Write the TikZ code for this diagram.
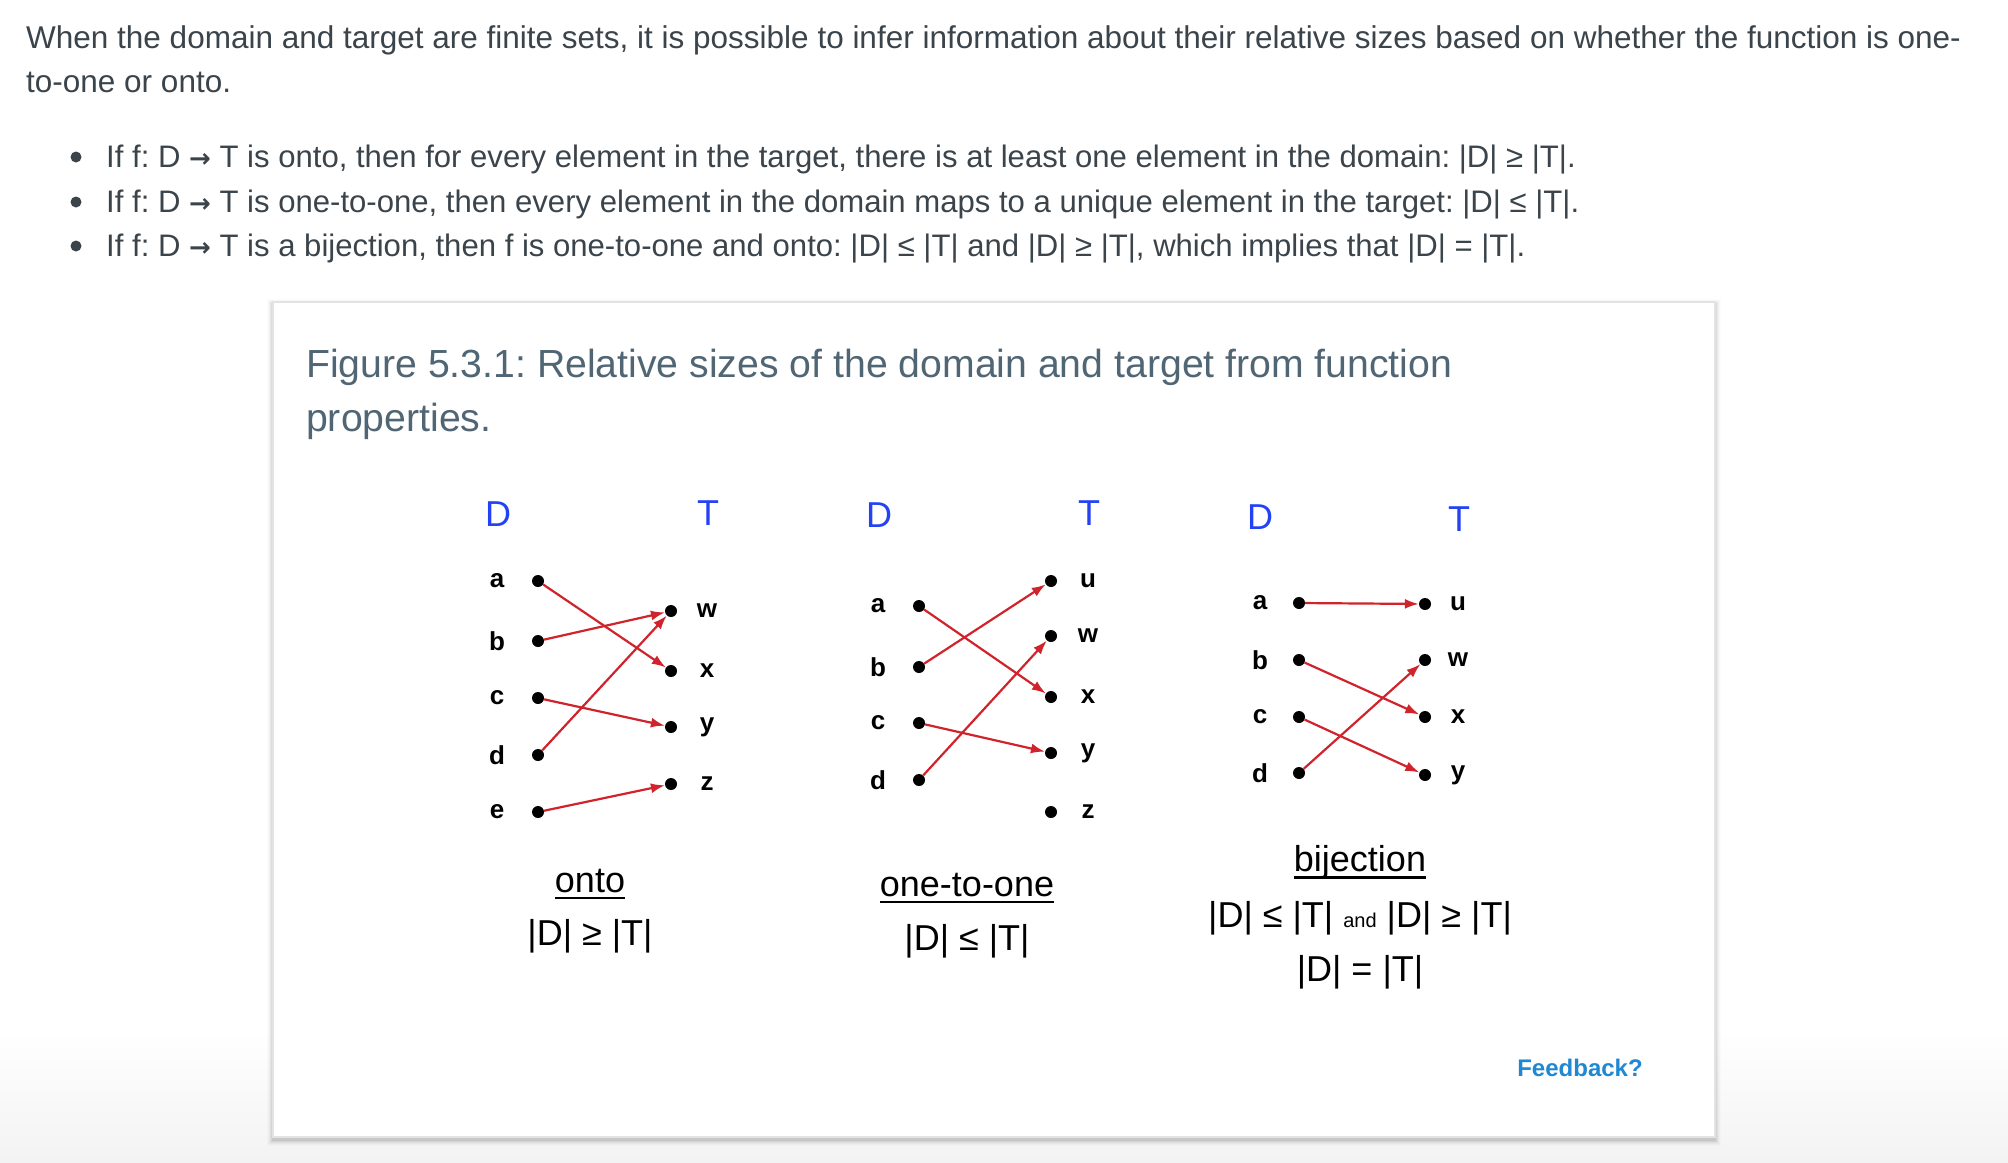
\documentclass[tikz,border=0pt]{standalone}
\usepackage{fontspec}
\setmainfont{Liberation Sans}
\newfontfamily\arrowfont{DejaVu Sans}
\usetikzlibrary{arrows.meta}
\frenchspacing
\definecolor{bodytext}{HTML}{3B444B}
\definecolor{captext}{HTML}{516674}
\definecolor{setblue}{HTML}{2341F5}
\definecolor{arrowred}{HTML}{D0232B}
\definecolor{fbblue}{HTML}{1E88D4}
\definecolor{cardline}{HTML}{E3E3E3}
\definecolor{pagegray}{HTML}{F3F3F3}
\newcommand{\fto}{{\arrowfont\bfseries\fontsize{26}{30}\selectfont →}}
\begin{document}
\begin{tikzpicture}[x=1pt,y=-1pt,
  bodyline/.style={anchor=base west, inner sep=0pt, text=bodytext, font=\fontsize{31.5}{37}\selectfont},
  bulletline/.style={anchor=base west, inner sep=0pt, text=bodytext, font=\fontsize{31.1}{37}\selectfont},
  bulletdot/.style={circle, fill=bodytext, inner sep=0pt, minimum size=11pt},
  capline/.style={anchor=base west, inner sep=0pt, text=captext, font=\fontsize{39.2}{48}\selectfont},
  setname/.style={inner sep=0pt, text=setblue, font=\fontsize{36}{40}\selectfont},
  elabel/.style={inner sep=0pt, text=black, font=\fontsize{26}{30}\selectfont\bfseries},
  dotnode/.style={circle, fill=black, inner sep=0pt, minimum size=12pt},
  arr/.style={draw=arrowred, line width=2.2pt, -{Latex[length=14pt,width=10pt]}},
  kindlabel/.style={anchor=base, inner sep=0pt, text=black, font=\fontsize{36}{40}\selectfont},
  ulstyle/.style={draw=black, line width=2.6pt},
  fblabel/.style={inner sep=0pt, text=fbblue, font=\fontsize{24}{28}\selectfont\bfseries}
]
\useasboundingbox (0,0) rectangle (2008,1162);
\fill[white] (0,0) rectangle (2008,1162);
\shade[top color=white, bottom color=pagegray] (0,1030) rectangle (2008,1162);

% card with soft shadow
\foreach \i/\o in {1/0.06,2/0.045,3/0.035,4/0.025,5/0.018,6/0.012} {
  \fill[black, opacity=\o] ({273-\i},{302-\i+3}) rectangle ({1715+\i},{1137+\i+3});
}
\fill[white, draw=cardline, line width=1.2pt] (273,302) rectangle (1715,1137);

% introductory text
\node[bodyline] (l1) at (26,48) {When the domain and target are finite sets, it is possible to infer information about their relative sizes based on whether the function is one-};
\node[bodyline] (l2) at (26,92.5) {to-one or onto.};

\node[bulletdot] (bd1) at (76,157) {};
\node[bulletdot] (bd2) at (76,202) {};
\node[bulletdot] (bd3) at (76,246) {};
\node[bulletline] (b1) at (106,167) {If f: D \fto{} T is onto, then for every element in the target, there is at least one element in the domain: |D| ≥ |T|.};
\node[bulletline] (b2) at (106,212) {If f: D \fto{} T is one-to-one, then every element in the domain maps to a unique element in the target: |D| ≤ |T|.};
\node[bulletline] (b3) at (106,256) {If f: D \fto{} T is a bijection, then f is one-to-one and onto: |D| ≤ |T| and |D| ≥ |T|, which implies that |D| = |T|.};

% caption
\node[capline] (cap1) at (306,377) {Figure 5.3.1: Relative sizes of the domain and target from function};
\node[capline] (cap2) at (306,431) {properties.};

% ---------- onto ----------
\node[setname] (oD) at (498,514) {D};
\node[setname] (oT) at (708,513) {T};
\foreach \n/\y in {a/581,b/641,c/698,d/755,e/812} {
  \node[elabel] (oL\n) at (497,\y) {\n};
  \node[dotnode] (o\n) at (538,\y) {};
}
\foreach \n/\y in {w/611,x/671,y/727,z/784} {
  \node[dotnode] (o\n) at (671,\y) {};
  \node[elabel] (oR\n) at (707,\y) {\n};
}
\draw[arr] (oa) -- (ox);
\draw[arr] (ob) -- (ow);
\draw[arr] (oc) -- (oy);
\draw[arr] (od) -- (ow);
\draw[arr] (oe) -- (oz);

% ---------- one-to-one ----------
\node[setname] (iD) at (879,515) {D};
\node[setname] (iT) at (1089,513) {T};
\foreach \n/\y in {a/606,b/667,c/723,d/780} {
  \node[elabel] (iL\n) at (878,\y) {\n};
  \node[dotnode] (i\n) at (919,\y) {};
}
\foreach \n/\y in {u/581,w/636,x/697,y/753,z/812} {
  \node[dotnode] (i\n) at (1051,\y) {};
  \node[elabel] (iR\n) at (1088,\y) {\n};
}
\draw[arr] (ia) -- (ix);
\draw[arr] (ib) -- (iu);
\draw[arr] (ic) -- (iy);
\draw[arr] (id) -- (iw);

% ---------- bijection ----------
\node[setname] (jD) at (1260,517) {D};
\node[setname] (jT) at (1459,519) {T};
\foreach \n/\y in {a/603,b/660,c/717,d/773} {
  \node[elabel] (jL\n) at (1260,\y) {\n};
  \node[dotnode] (j\n) at (1299,\y) {};
}
\foreach \n/\y in {u/604,w/660,x/717,y/775} {
  \node[dotnode] (j\n) at (1425,\y) {};
  \node[elabel] (jR\n) at (1458,\y) {\n};
}
\draw[arr] (ja) -- (ju);
\draw[arr] (jb) -- (jx);
\draw[arr] (jc) -- (jy);
\draw[arr] (jd) -- (jw);

% ---------- bottom labels ----------
\node[kindlabel] (onto) at (590,892) {onto};
\draw[ulstyle] ([yshift=-6pt]onto.base west) -- ([yshift=-6pt]onto.base east);
\node[kindlabel] (ontorel) at (590,945) {|D| ≥ |T|};

\node[kindlabel] (oto) at (967,896) {one-to-one};
\draw[ulstyle] ([yshift=-6pt]oto.base west) -- ([yshift=-6pt]oto.base east);
\node[kindlabel] (otorel) at (967,950) {|D| ≤ |T|};

\node[kindlabel] (bij) at (1360,871.5) {bijection};
\draw[ulstyle] ([yshift=-6pt]bij.base west) -- ([yshift=-6pt]bij.base east);
\node[kindlabel] (bijrel) at (1360,927) {|D| ≤ |T| {\fontsize{20}{24}\selectfont and} |D| ≥ |T|};
\node[kindlabel] (bijeq) at (1360,981) {|D| = |T|};

\node[fblabel] (fb) at (1580,1068) {Feedback?};
\end{tikzpicture}
\end{document}
